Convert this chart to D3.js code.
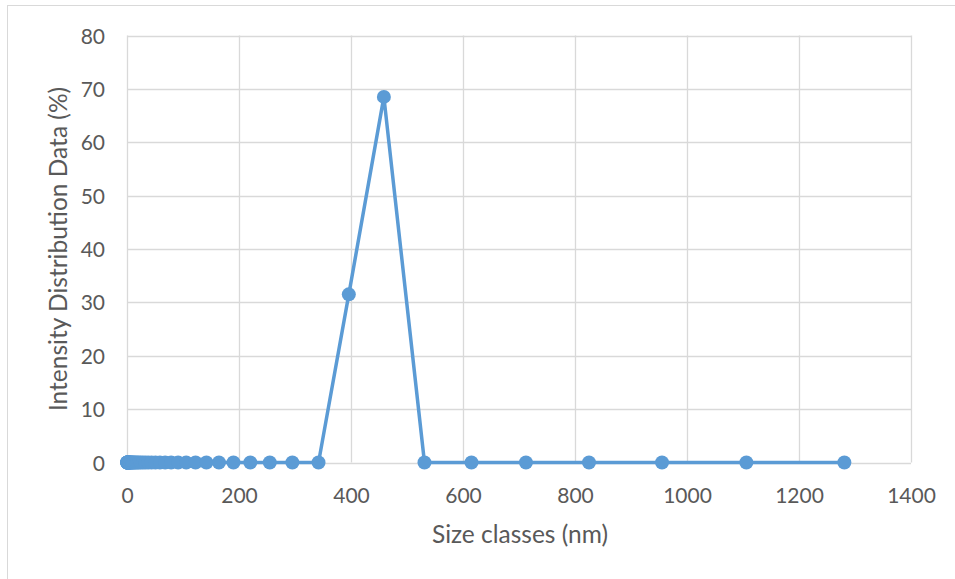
<!DOCTYPE html>
<html><head><meta charset="utf-8">
<script src="https://cdn.jsdelivr.net/npm/d3@7"></script>
<style>body{margin:0;background:#fff;}svg{display:block;}text{font-family:Lato,"Open Sans",sans-serif;fill:#595959;}</style>
</head><body>
<svg id="c" width="955" height="579"></svg>
<script>
const sizeClasses = [0.4, 0.4632, 0.5365, 0.6213, 0.7195, 0.8332, 0.9649, 1.117, 1.294, 1.499, 1.736, 2.010, 2.328, 2.696, 3.122, 3.615, 4.187, 4.849, 5.615, 6.503, 7.531, 8.721, 10.10, 11.70, 13.54, 15.69, 18.17, 21.04, 24.36, 28.21, 32.67, 37.84, 43.82, 50.75, 58.77, 68.06, 78.82, 91.28, 105.7, 122.4, 141.8, 164.2, 190.1, 220.2, 255.0, 295.3, 342.0, 396.1, 458.7, 531.2, 615.1, 712.4, 825.0, 955.4, 1106, 1281];
const intensity = [0,0,0,0,0,0,0,0,0,0, 0,0,0,0,0,0,0,0,0,0, 0,0,0,0,0,0,0,0,0,0, 0,0,0,0,0,0,0,0,0,0, 0,0,0,0,0,0,0, 31.5, 68.5, 0,0,0,0,0,0,0];
const xTicks = [0,200,400,600,800,1000,1200,1400];
const yTicks = [0,10,20,30,40,50,60,70,80];
const xTitle = "Size classes (nm)";
const yTitle = "Intensity Distribution Data (%)";

const svg = d3.select("#c");
const L=127, R=911, T=35.5, B=462.5;
const x = d3.scaleLinear().domain([0,1400]).range([L,R]);
const y = d3.scaleLinear().domain([0,80]).range([B,T]);

svg.append("rect").attr("x",7.5).attr("y",5.5).attr("width",960).attr("height",600)
  .attr("fill","none").attr("stroke","#d9d9d9");

const g = svg.append("g");
g.selectAll(".hg").data(yTicks).join("line")
  .attr("x1",L).attr("x2",R).attr("y1",d=>Math.round(y(d))+0.5).attr("y2",d=>Math.round(y(d))+0.5)
  .attr("stroke","#d9d9d9").attr("stroke-width",1.3);
g.selectAll(".vg").data(xTicks).join("line")
  .attr("y1",T).attr("y2",B).attr("x1",d=>Math.round(x(d))+0.5).attr("x2",d=>Math.round(x(d))+0.5)
  .attr("stroke","#d9d9d9").attr("stroke-width",1.3);

const fmt = d3.format("d");
const xa = svg.append("g").attr("transform",`translate(0,${B})`)
  .call(d3.axisBottom(x).tickValues(xTicks).tickFormat(fmt).tickSize(0).tickPadding(0));
xa.select(".domain").remove();
xa.selectAll("text").attr("y",40).attr("dy",0).style("font-size","21px").style("fill","#595959").style("font-family","Lato");

const ya = svg.append("g").attr("transform",`translate(${L},0)`)
  .call(d3.axisLeft(y).tickValues(yTicks).tickFormat(fmt).tickSize(0).tickPadding(0));
ya.select(".domain").remove();
ya.selectAll("text").attr("x",-22).attr("dy","0.36em").style("font-size","21px").style("fill","#595959").style("font-family","Lato");

const pts = sizeClasses.map((s,i)=>[s,intensity[i]]);
svg.append("path").datum(pts)
  .attr("d", d3.line().x(d=>x(d[0])).y(d=>y(d[1])))
  .attr("fill","none").attr("stroke","#5b9bd5").attr("stroke-width",3.5).attr("stroke-linejoin","round");
svg.selectAll(".pt").data(pts).join("circle")
  .attr("cx",d=>x(d[0])).attr("cy",d=>y(d[1])).attr("r",7).attr("fill","#5b9bd5");

svg.append("text").attr("x",(L+R)/2+1).attr("y",543).attr("text-anchor","middle")
  .style("font-size","24.5px").text(xTitle);
svg.append("text").attr("transform",`translate(67,${(T+B)/2}) rotate(-90)`).attr("text-anchor","middle")
  .style("font-size","24.5px").text(yTitle);
</script>
</body></html>
